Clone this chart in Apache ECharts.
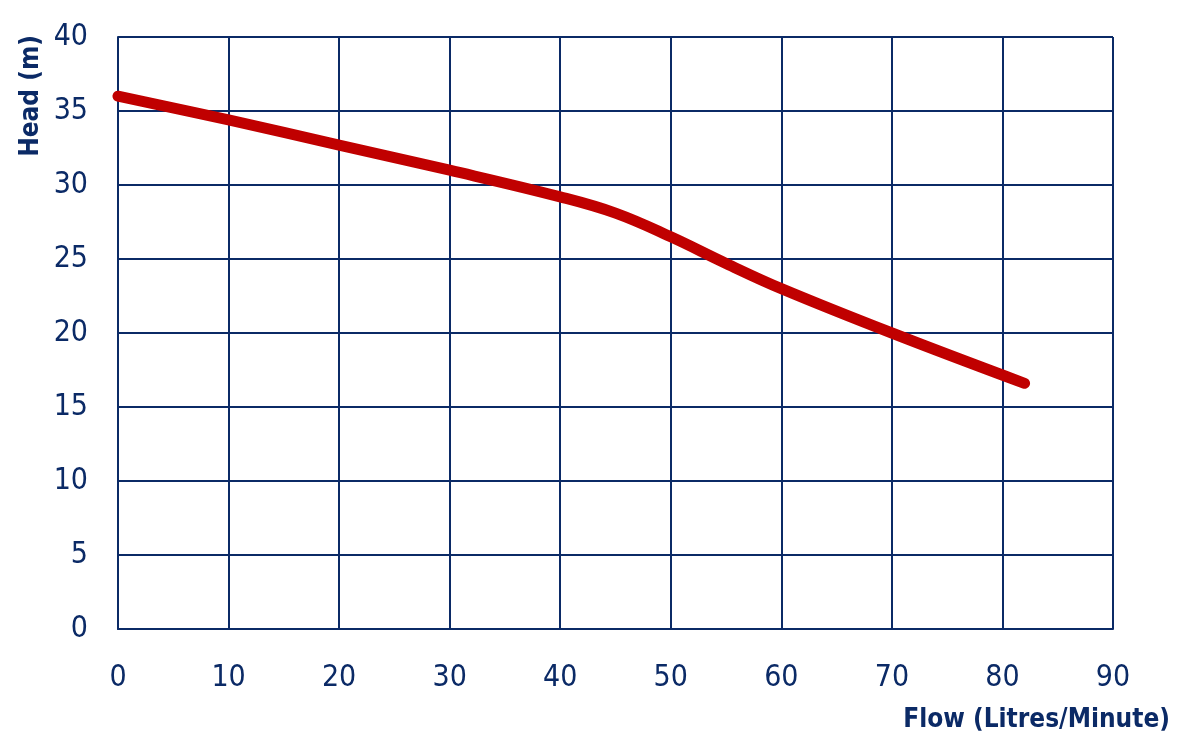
<!DOCTYPE html>
<html>
<head>
<meta charset="utf-8">
<script src="https://cdn.jsdelivr.net/npm/echarts@6/dist/echarts.min.js"></script>
<style>
html,body{margin:0;padding:0;background:#fff;}
#c{width:1181px;height:749px;}
</style>
</head>
<body>
<div id="c"></div>
<script>
const flow = [0, 10, 20, 30, 40, 45, 50, 55, 60, 70, 82];
const head = [36.0, 34.4, 32.7, 31.0, 29.2, 28.1, 26.5, 24.7, 23.0, 20.0, 16.6];
const xTicks = [0, 10, 20, 30, 40, 50, 60, 70, 80, 90];
const yTicks = [0, 5, 10, 15, 20, 25, 30, 35, 40];
const xName = 'Flow (Litres/Minute)';
const yName = 'Head (m)';

const navy = '#0b2a66';
const fontFam = '"DejaVu Sans", sans-serif';
const chart = echarts.init(document.getElementById('c'));
chart.setOption({
  animation: false,
  grid: {left: 118, right: 68, top: 37, bottom: 120, containLabel: false},
  xAxis: {
    type: 'value', min: xTicks[0], max: xTicks[xTicks.length - 1], interval: 10,
    axisLine: {show: true, lineStyle: {color: navy, width: 2}},
    axisTick: {show: false},
    splitLine: {show: true, lineStyle: {color: navy, width: 2}},
    axisLabel: {color: navy, fontSize: 30, fontWeight: 'condensed', fontFamily: fontFam, margin: 34},
    name: xName, nameLocation: 'end', nameGap: 57,
    nameTextStyle: {color: navy, fontSize: 26, fontWeight: 'bold condensed', fontFamily: fontFam, align: 'right', verticalAlign: 'top', padding: [78, 0, 0, 0]}
  },
  yAxis: {
    type: 'value', min: yTicks[0], max: yTicks[yTicks.length - 1], interval: 5,
    axisLine: {show: true, lineStyle: {color: navy, width: 2}},
    axisTick: {show: false},
    splitLine: {show: true, lineStyle: {color: navy, width: 2}},
    axisLabel: {color: navy, fontSize: 30, fontWeight: 'condensed', fontFamily: fontFam, margin: 30}
  },
  graphic: [{
    type: 'text', x: 31, y: 35, rotation: Math.PI / 2,
    style: {text: yName, fill: navy, font: 'bold condensed 26px ' + fontFam, align: 'right', verticalAlign: 'middle'}
  }],
  series: [{
    type: 'line', data: flow.map((f, i) => [f, head[i]]),
    smooth: 0.4, showSymbol: false,
    lineStyle: {color: '#c00000', width: 11, cap: 'round', join: 'round'}
  }]
});
</script>
</body>
</html>
